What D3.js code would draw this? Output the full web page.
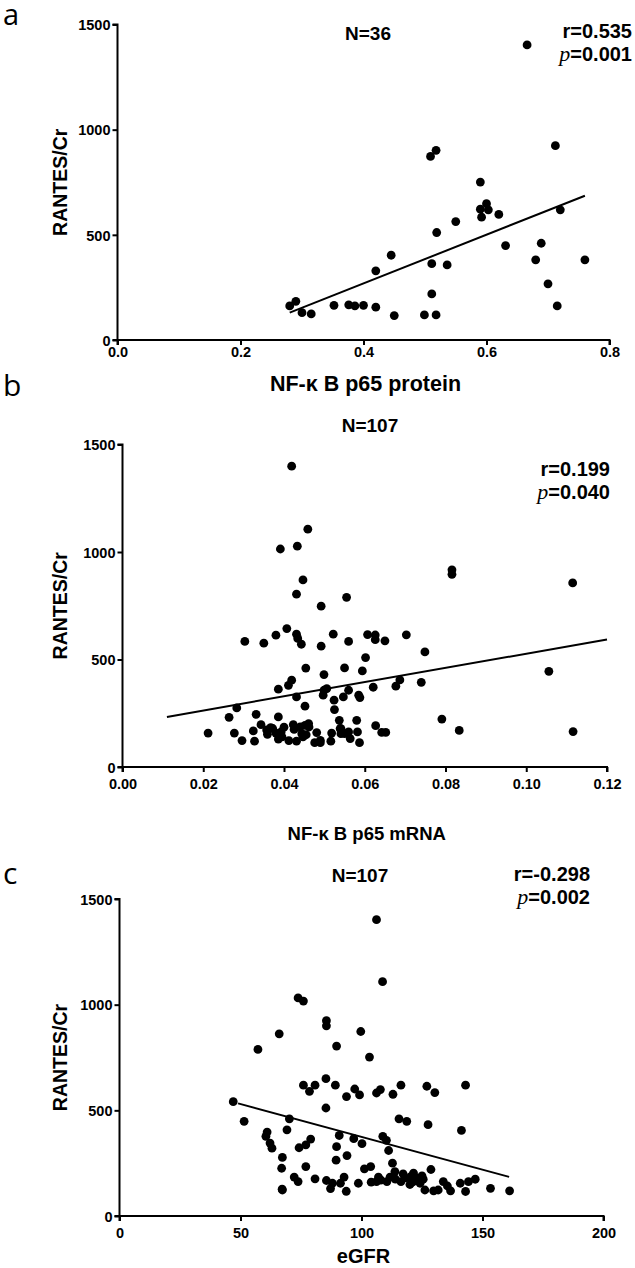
<!DOCTYPE html>
<html>
<head>
<meta charset="utf-8">
<script src="https://cdn.jsdelivr.net/npm/d3@7"></script>
<style>
  html, body { margin: 0; padding: 0; background: #fff; }
  svg { display: block; }
  text { font-family: "Liberation Sans", Arial, sans-serif; fill: #000; }
</style>
</head>
<body>
<svg id="chart" width="635" height="1268"></svg>
<script>
// ---------- Panel a data ----------
const aX = [0.280,0.290,0.300,0.315,0.352,0.376,0.386,0.400,0.420,0.420,0.445,0.450,0.499,0.518,0.511,0.511,0.536,0.519,0.509,0.518,0.550,0.590,0.590,0.592,0.600,0.603,0.620,0.631,0.666,0.689,0.680,0.700,0.715,0.720,0.712,0.760];
const aY = [162,184,130,124,165,167,162,165,156,329,403,116,119,119,219,363,357,511,873,902,563,751,622,584,648,619,597,449,1403,460,381,267,162,619,924,381];
const aFitX = [0.28, 0.76];
const aFitY = [130, 686];
const aXTicks = [0.0, 0.2, 0.4, 0.6, 0.8];
const aXTickLabels = ["0.0", "0.2", "0.4", "0.6", "0.8"];

// ---------- Panel b data ----------
const bX = [0.0212,0.0264,0.0283,0.0277,0.0296,0.0303,0.0324,0.0327,0.0331,0.0343,0.0350,0.0357,0.0359,0.0372,0.0380,0.0380,0.0386,0.0386,0.0386,0.0393,0.0391,0.0400,0.0407,0.0411,0.0412,0.0419,0.0419,0.0423,0.0425,0.0431,0.0431,0.0431,0.0431,0.0433,0.0434,0.0440,0.0443,0.0444,0.0447,0.0447,0.0452,0.0454,0.0459,0.0461,0.0462,0.0476,0.0481,0.0490,0.0490,0.0492,0.0492,0.0497,0.0499,0.0499,0.0506,0.0516,0.0518,0.0522,0.0524,0.0525,0.0537,0.0539,0.0541,0.0547,0.0550,0.0550,0.0555,0.0560,0.0560,0.0560,0.0564,0.0580,0.0582,0.0585,0.0588,0.0587,0.0594,0.0602,0.0607,0.0621,0.0626,0.0626,0.0627,0.0642,0.0650,0.0652,0.0677,0.0687,0.0703,0.0740,0.0749,0.0791,0.0816,0.0816,0.0834,0.1056,0.1115,0.1116,0.0367,0.0452,0.0541,0.0455,0.0395];
const bY = [158,231,275,158,123,584,168,120,245,197,576,172,152,179,158,613,233,130,362,163,1014,185,644,380,123,404,1399,197,175,120,326,804,618,1027,598,186,571,155,140,870,283,460,1106,202,186,113,160,113,124,748,562,334,357,430,365,120,158,618,311,267,217,179,155,326,155,461,789,163,584,357,132,217,163,334,323,113,447,509,616,371,614,592,192,161,587,161,376,405,615,394,535,223,917,896,170,445,856,165,183,194,178,150,140];
const bFitX = [0.011, 0.120];
const bFitY = [233, 593];
const bXTicks = [0.00, 0.02, 0.04, 0.06, 0.08, 0.10, 0.12];
const bXTickLabels = ["0.00", "0.02", "0.04", "0.06", "0.08", "0.10", "0.12"];

// ---------- Panel c data ----------
const cX = [106.2,108.7,73.8,76.0,85.5,85.5,99.7,66.0,57.2,89.7,103.3,85.3,76.0,80.8,78.5,89.2,97.2,99.2,93.8,106.2,107.8,113.0,116.3,127.0,130.3,143.0,47.0,85.3,51.5,70.2,115.5,118.7,127.5,141.3,69.2,61.0,60.5,62.2,63.0,67.3,67.0,74.2,77.0,79.0,90.8,96.8,100.2,108.8,110.3,111.2,89.7,94.0,89.5,77.0,101.2,103.8,112.8,128.7,72.2,73.8,80.8,85.5,88.0,87.2,92.8,91.3,93.7,98.7,67.2,67.3,106.2,107.0,110.5,111.8,113.8,116.3,117.2,120.0,120.5,121.5,122.5,124.2,125.5,126.2,129.8,131.7,133.8,135.5,136.8,140.8,143.0,144.2,147.0,153.3,161.2,121.2,123.3,118.0,121.0,125.0,114.0,108.0,104.0];
const cY = [1402,1109,1032,1017,924,900,873,862,788,804,752,650,619,619,590,619,601,573,565,582,598,576,619,614,584,619,541,511,448,460,460,448,432,405,408,397,377,345,321,277,226,323,337,364,381,366,342,377,358,310,328,286,264,234,223,234,250,220,184,163,176,168,155,130,184,155,117,155,127,123,163,184,163,184,210,163,199,149,187,203,174,155,174,123,119,123,163,142,119,155,116,163,174,131,119,161,179,180,165,190,175,170,160];
const cFitX = [49, 161];
const cFitY = [533, 185];
const cXTicks = [0, 50, 100, 150, 200];
const cXTickLabels = ["0", "50", "100", "150", "200"];

// ---------- shared ----------
const yTicks = [0, 500, 1000, 1500];
const yTickLabels = ["0", "500", "1000", "1500"];
const yTitle = "RANTES/Cr";

const panels = [
  { letter: "a", letterY: 25, letterSize: 29, xs: aX, ys: aY, fitX: aFitX, fitY: aFitY,
    xDomain: [0, 0.8], xTicks: aXTicks, xLabels: aXTickLabels,
    left: 117.5, right: 609.5, top: 24.5, bottom: 340,
    xLabelY: 357, xTitle: "NF-\u03ba B p65 protein", xTitleY: 391, xTitleSize: 21.5,
    nText: "N=36", nX: 368, nY: 40, rText: "r=0.535", pText: "=0.001", statX: 632, rY: 38, pY: 61 },
  { letter: "b", letterY: 396, letterSize: 30, xs: bX, ys: bY, fitX: bFitX, fitY: bFitY,
    xDomain: [0, 0.12], xTicks: bXTicks, xLabels: bXTickLabels,
    left: 122.5, right: 607, top: 444.5, bottom: 767,
    xLabelY: 789, xTitle: "NF-\u03ba B p65 mRNA", xTitleY: 840, xTitleSize: 18.5,
    nText: "N=107", nX: 370, nY: 432, rText: "r=0.199", pText: "=0.040", statX: 610, rY: 476, pY: 499 },
  { letter: "c", letterY: 884, letterSize: 30, xs: cX, ys: cY, fitX: cFitX, fitY: cFitY,
    xDomain: [0, 200], xTicks: cXTicks, xLabels: cXTickLabels,
    left: 119.5, right: 603.5, top: 899, bottom: 1216,
    xLabelY: 1238, xTitle: "eGFR", xTitleY: 1263, xTitleSize: 20,
    nText: "N=107", nX: 360, nY: 882, rText: "r=-0.298", pText: "=0.002", statX: 590, rY: 881, pY: 904 }
];

const svg = d3.select("#chart");

panels.forEach(p => {
  const x = d3.scaleLinear().domain(p.xDomain).range([p.left, p.right]);
  const y = d3.scaleLinear().domain([0, 1500]).range([p.bottom, p.top]);
  const g = svg.append("g");

  // panel letter
  g.append("text").attr("x", 3).attr("y", p.letterY)
    .style("font-family", "'Open Sans', 'Noto Sans', sans-serif")
    .style("font-size", p.letterSize + "px").text(p.letter);

  // y axis
  const yAxis = d3.axisLeft(y).tickValues(yTicks)
    .tickFormat((d, i) => yTickLabels[i]).tickSize(5).tickPadding(2);
  const ya = g.append("g").attr("transform", `translate(${p.left},0)`).call(yAxis);
  ya.select(".domain").attr("stroke-width", 2).attr("d", `M-5,${p.bottom}H0V${p.top}H-5`);
  ya.selectAll(".tick line").attr("stroke-width", 2);
  ya.selectAll(".tick text").style("font-size", "14.5px").style("font-weight", "bold")
    .style("font-family", "'Liberation Sans', Arial, sans-serif").attr("dy", "0.36em");

  // x axis
  const xAxis = d3.axisBottom(x).tickValues(p.xTicks)
    .tickFormat((d, i) => p.xLabels[i]).tickSize(5).tickPadding(3);
  const xa = g.append("g").attr("transform", `translate(0,${p.bottom})`).call(xAxis);
  xa.select(".domain").attr("stroke-width", 2).attr("d", `M${p.left},5V0H${p.right}V5`);
  xa.selectAll(".tick line").attr("stroke-width", 2);
  xa.selectAll(".tick text").style("font-size", "14.5px").style("font-weight", "bold")
    .style("font-family", "'Liberation Sans', Arial, sans-serif")
    .attr("dy", null).attr("y", p.xLabelY - p.bottom);

  // y title
  g.append("text")
    .attr("transform", `translate(67,${(p.top + p.bottom) / 2}) rotate(-90)`)
    .attr("text-anchor", "middle")
    .style("font-size", "19.5px").style("font-weight", "bold").text(yTitle);

  // x title
  g.append("text").attr("x", (p.left + p.right) / 2 + 2).attr("y", p.xTitleY)
    .attr("text-anchor", "middle")
    .style("font-size", p.xTitleSize + "px").style("font-weight", "bold").text(p.xTitle);

  // N text
  g.append("text").attr("x", p.nX).attr("y", p.nY).attr("text-anchor", "middle")
    .style("font-size", "19px").style("font-weight", "bold").text(p.nText);

  // r and p
  g.append("text").attr("x", p.statX).attr("y", p.rY).attr("text-anchor", "end")
    .style("font-size", "20px").style("font-weight", "bold").text(p.rText);
  const pt = g.append("text").attr("x", p.statX).attr("y", p.pY).attr("text-anchor", "end")
    .style("font-size", "20px").style("font-weight", "bold");
  pt.append("tspan").style("font-style", "italic").style("font-weight", "normal")
    .style("font-family", "'Liberation Serif', serif").style("font-size", "22px").text("p");
  pt.append("tspan").text(p.pText);

  // fit line
  const fit = p.fitX.map((v, i) => [v, p.fitY[i]]);
  g.append("path").datum(fit)
    .attr("d", d3.line().x(d => x(d[0])).y(d => y(d[1])))
    .attr("fill", "none").attr("stroke", "#000").attr("stroke-width", 2);

  // points
  const pts = p.xs.map((v, i) => [v, p.ys[i]]);
  g.append("g").selectAll("circle").data(pts).join("circle")
    .attr("cx", d => x(d[0])).attr("cy", d => y(d[1])).attr("r", 4.4).attr("fill", "#000");
});
</script>
</body>
</html>
